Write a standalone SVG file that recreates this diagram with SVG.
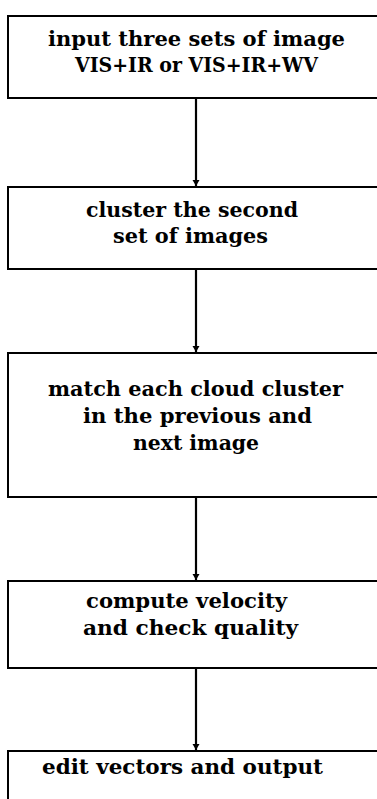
<svg xmlns="http://www.w3.org/2000/svg" width="377" height="799" viewBox="0 0 377 799">
<style>
.box{fill:#fff;stroke:#000;stroke-width:2}
.t{font-family:"DejaVu Serif","Liberation Serif",serif;font-size:20px;font-weight:bold;fill:#000}
.c{stroke:#000;stroke-width:2.2;fill:none}
</style>
<defs>
<marker id="ah" markerWidth="8" markerHeight="8" refX="6" refY="4" orient="auto" markerUnits="userSpaceOnUse">
<path d="M0,0.5 L6,4 L0,7.5 Z" fill="#000"/>
</marker>
</defs>
<rect width="377" height="799" fill="#fff"/>
<g id="n1">
<rect class="box" x="8" y="16" width="380" height="82"/>
<text class="t" x="48" y="46" textLength="297" lengthAdjust="spacingAndGlyphs">input three sets of image</text>
<text class="t" x="75" y="72" textLength="243" lengthAdjust="spacingAndGlyphs">VIS+IR or VIS+IR+WV</text>
</g>
<g id="n2">
<rect class="box" x="8" y="187" width="380" height="82"/>
<text class="t" x="86" y="217" textLength="212" lengthAdjust="spacingAndGlyphs">cluster the second</text>
<text class="t" x="113" y="243" textLength="155" lengthAdjust="spacingAndGlyphs">set of images</text>
</g>
<g id="n3">
<rect class="box" x="8" y="353" width="380" height="144"/>
<text class="t" x="48" y="396" textLength="295" lengthAdjust="spacingAndGlyphs">match each cloud cluster</text>
<text class="t" x="83" y="423" textLength="229" lengthAdjust="spacingAndGlyphs">in the previous and</text>
<text class="t" x="133" y="450" textLength="126" lengthAdjust="spacingAndGlyphs">next image</text>
</g>
<g id="n4">
<rect class="box" x="8" y="581" width="380" height="87"/>
<text class="t" x="86" y="608" textLength="201" lengthAdjust="spacingAndGlyphs">compute velocity</text>
<text class="t" x="83" y="635" textLength="215" lengthAdjust="spacingAndGlyphs">and check quality</text>
</g>
<g id="n5">
<rect class="box" x="8" y="751" width="380" height="60"/>
<text class="t" x="42" y="774" textLength="281" lengthAdjust="spacingAndGlyphs">edit vectors and output</text>
</g>
<g id="connectors">
<line class="c" x1="196" y1="98" x2="196" y2="186" marker-end="url(#ah)"/>
<line class="c" x1="196" y1="269" x2="196" y2="352" marker-end="url(#ah)"/>
<line class="c" x1="196" y1="497" x2="196" y2="580" marker-end="url(#ah)"/>
<line class="c" x1="196" y1="668" x2="196" y2="750" marker-end="url(#ah)"/>
</g>
</svg>
